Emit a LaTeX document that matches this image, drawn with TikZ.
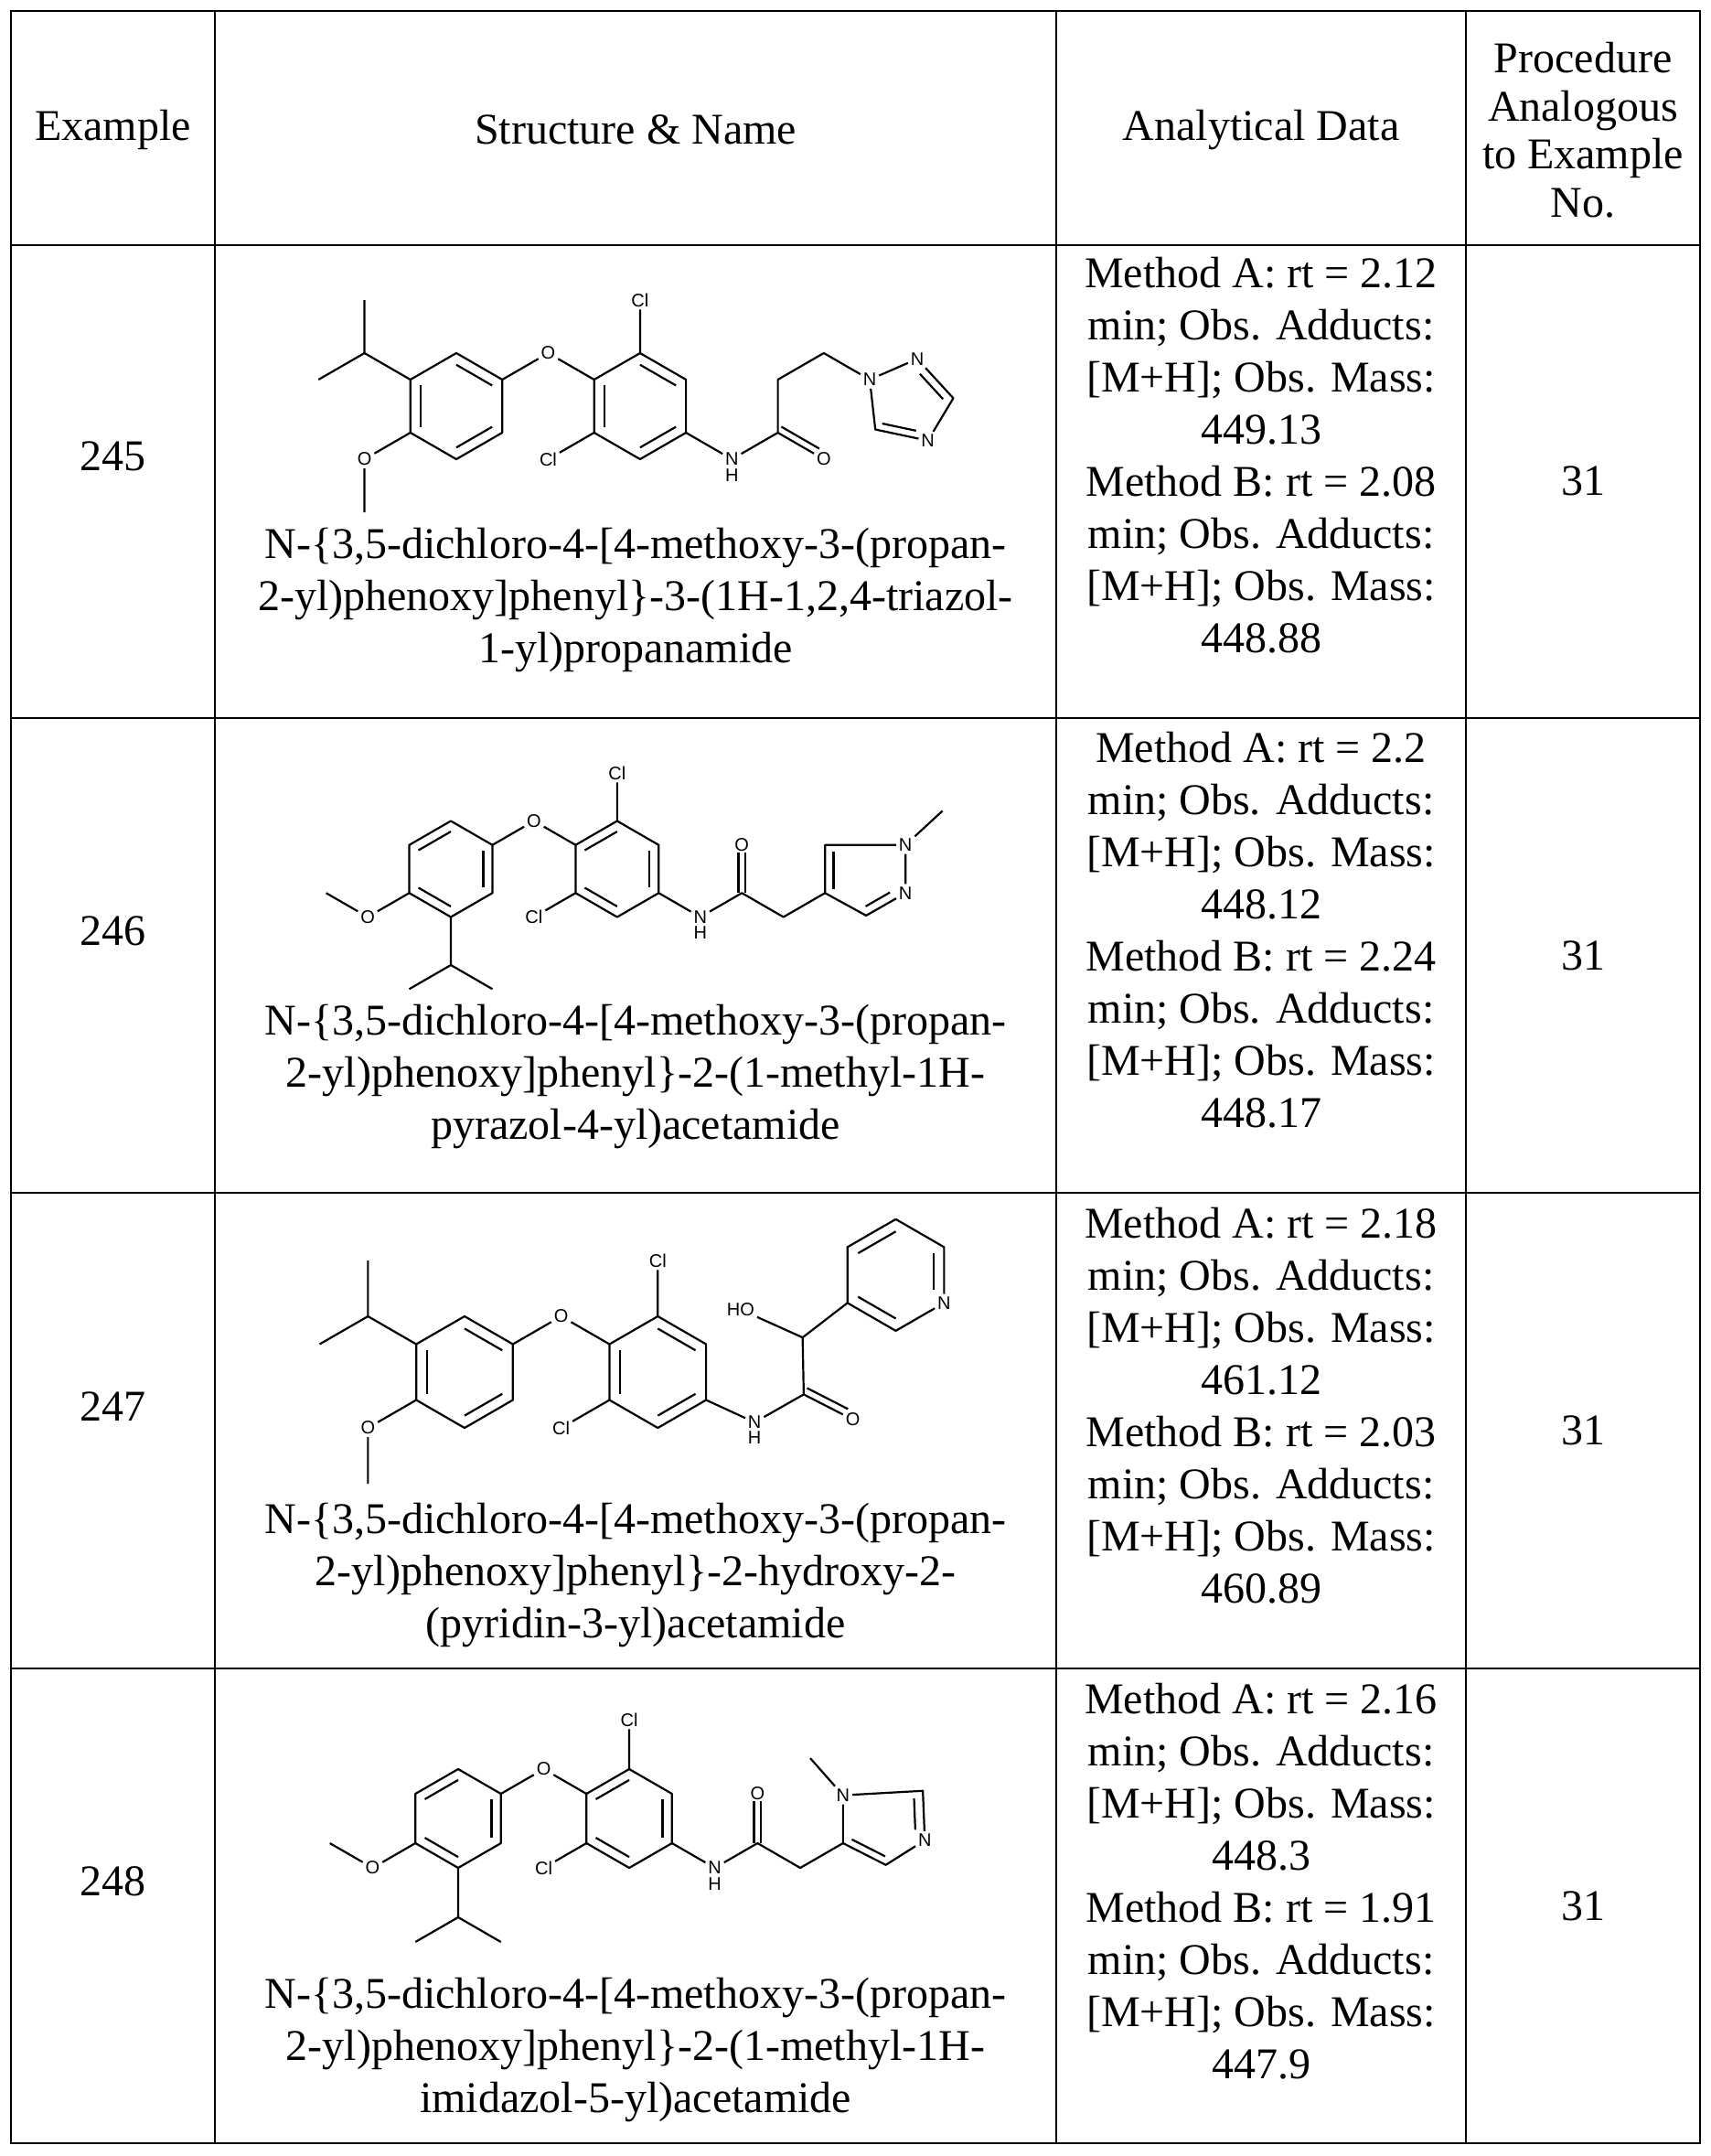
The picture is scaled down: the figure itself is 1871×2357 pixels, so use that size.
\documentclass[tikz,border=0pt]{standalone}
\usepackage{fontspec}
\setmainfont{Liberation Serif}
\newfontfamily\molfont{Liberation Sans}
\usetikzlibrary{calc}
\tikzset{
  bond/.style={line width=1.1pt, line join=round},
  tab/.style={line width=1pt},
  atom/.style={font=\molfont\fontsize{10}{10}\selectfont, inner sep=1.3pt},
  cell/.style={font=\fontsize{24}{28.5}\selectfont, align=center, inner sep=0pt},
}
\newcommand\hexring[3]{%
  \coordinate (#1) at (#2,#3);
  \foreach \i/\ang in {1/90,2/30,3/-30,4/-90,5/-150,6/150}{\coordinate (#1\i) at ($(#1)+(\ang:1)$);}%
  \draw[bond] (#11)--(#12)--(#13)--(#14)--(#15)--(#16)--cycle;}
\newcommand\dbin[4][]{\draw[bond,#1] ($(#2)!0.22!(#4)$) -- ($(#3)!0.22!(#4)$);}
\begin{document}
\begin{tikzpicture}[x=0.5pt,y=-0.5pt]
\useasboundingbox (0,0) rectangle (1871,2357);
% table
\draw[tab] (12,12) rectangle (1859,2343);
\foreach \yy in {268,785,1304,1824} \draw[tab] (12,\yy) -- (1859,\yy);
\foreach \xx in {235,1155,1603} \draw[tab] (\xx,12) -- (\xx,2343);
% header
\node[cell] (h1) at (123.5,142) {Example};
\node[cell] (h2) at (695,142) {Structure \& Name};
\node[cell] (h3) at (1379,142) {Analytical Data};
\node[cell, font=\fontsize{24}{26.3}\selectfont] (h4) at (1731,142) {Procedure\\Analogous\\to Example\\No.};
% example numbers
\node[cell] (e1) at (123.5,499) {245};
\node[cell] (e2) at (123.5,1018) {246};
\node[cell] (e3) at (123.5,1538) {247};
\node[cell] (e4) at (123.5,2057) {248};
% procedure
\node[cell] (p1) at (1731,526) {31};
\node[cell] (p2) at (1731,1045) {31};
\node[cell] (p3) at (1731,1564) {31};
\node[cell] (p4) at (1731,2084) {31};
% analytical
\node[cell] (d1) at (1379,498) {Method A: rt = 2.12\\min; Obs. Adducts:\\{}[M+H]; Obs. Mass:\\449.13\\Method B: rt = 2.08\\min; Obs. Adducts:\\{}[M+H]; Obs. Mass:\\448.88};
\node[cell] (d2) at (1379,1017) {Method A: rt = 2.2\\min; Obs. Adducts:\\{}[M+H]; Obs. Mass:\\448.12\\Method B: rt = 2.24\\min; Obs. Adducts:\\{}[M+H]; Obs. Mass:\\448.17};
\node[cell] (d3) at (1379,1537) {Method A: rt = 2.18\\min; Obs. Adducts:\\{}[M+H]; Obs. Mass:\\461.12\\Method B: rt = 2.03\\min; Obs. Adducts:\\{}[M+H]; Obs. Mass:\\460.89};
\node[cell] (d4) at (1379,2057) {Method A: rt = 2.16\\min; Obs. Adducts:\\{}[M+H]; Obs. Mass:\\448.3\\Method B: rt = 1.91\\min; Obs. Adducts:\\{}[M+H]; Obs. Mass:\\447.9};
% names
\node[cell] (n1) at (695,656) {N-\{3,5-dichloro-4-[4-methoxy-3-(propan-\\2-yl)phenoxy]phenyl\}-3-(1H-1,2,4-triazol-\\1-yl)propanamide};
\node[cell] (n2) at (695,1177) {N-\{3,5-dichloro-4-[4-methoxy-3-(propan-\\2-yl)phenoxy]phenyl\}-2-(1-methyl-1H-\\pyrazol-4-yl)acetamide};
\node[cell] (n3) at (695,1722) {N-\{3,5-dichloro-4-[4-methoxy-3-(propan-\\2-yl)phenoxy]phenyl\}-2-hydroxy-2-\\(pyridin-3-yl)acetamide};
\node[cell] (n4) at (695,2241) {N-\{3,5-dichloro-4-[4-methoxy-3-(propan-\\2-yl)phenoxy]phenyl\}-2-(1-methyl-1H-\\imidazol-5-yl)acetamide};

% ===== molecule 245 =====
\begin{scope}[shift={(499,444)},x=29pt,y=29pt]
\hexring{a}{0}{0}\hexring{b}{3.464}{0}
\dbin{a1}{a2}{a}\dbin{a5}{a6}{a}\dbin{a3}{a4}{a}
\dbin{b1}{b2}{b}\dbin{b5}{b6}{b}\dbin{b3}{b4}{b}
\node[atom] (o) at (1.732,1) {O};
\node[atom] (cla) at (3.464,2) {Cl};
\node[atom] (clb) at (1.732,-1) {Cl};
\node[atom] (nh) at (5.196,-1) {N};
\node[atom, anchor=north, inner sep=0pt] (hh) at (nh.south) {H};
\coordinate (c1) at (6.062,-0.5);
\node[atom] (ox) at (6.928,-1) {O};
\coordinate (c2) at (6.062,0.5);
\coordinate (c3) at (6.928,1);
\node[atom] (t1) at (7.794,0.5) {N};
\node[atom] (t2) at (8.69,0.89) {N};
\coordinate (t3) at (9.37,0.15);
\node[atom] (t4) at (8.89,-0.65) {N};
\coordinate (t5) at (7.9,-0.44);
\coordinate (tc) at (8.49,0.07);
\draw[bond] (a2)--(o)--(b6) (b1)--(cla) (b5)--(clb) (b3)--(nh)--(c1)--(ox) (c1)--(c2)--(c3)--(t1);
\draw[bond, shorten >=5pt] ($(c1)!0.13!90:(ox)$) -- ($(ox)!0.13!-90:(c1)$);
\draw[bond] (t1)--(t2) (t2)--(t3)--(t4) (t4)--(t5)--(t1);
\dbin[shorten <=4pt]{t2}{t3}{tc}\dbin[shorten <=4pt]{t4}{t5}{tc}
\coordinate (ip) at (-1.732,1); \coordinate (m1) at (-1.732,2); \coordinate (m2) at (-2.598,0.5);
\draw[bond] (a6)--(ip)--(m1) (ip)--(m2);
\node[atom] (om) at (-1.732,-1) {O}; \coordinate (m3) at (-1.732,-2);
\draw[bond] (a5)--(om)--(m3);
\end{scope}

% ===== molecule 246 =====
\begin{scope}[shift={(493,950)},x=26.25pt,y=26.25pt]
\hexring{a}{0}{0}\hexring{b}{3.464}{0}
\dbin{a1}{a6}{a}\dbin{a2}{a3}{a}\dbin{a4}{a5}{a}
\dbin{b1}{b6}{b}\dbin{b2}{b3}{b}\dbin{b4}{b5}{b}
\node[atom] (o) at (1.732,1) {O};
\node[atom] (cla) at (3.464,2) {Cl};
\node[atom] (clb) at (1.732,-1) {Cl};
\node[atom] (nh) at (5.196,-1) {N};
\node[atom, anchor=north, inner sep=0pt] (hh) at (nh.south) {H};
\coordinate (c1) at (6.062,-0.5);
\node[atom] (ox) at (6.062,0.5) {O};
\coordinate (c2) at (6.928,-1);
\coordinate (q4) at (7.794,-0.5);
\coordinate (q5) at (7.794,0.5);
\node[atom] (q1) at (9.47,0.5) {N};
\node[atom] (q2) at (9.47,-0.5) {N};
\coordinate (q3) at (8.65,-0.97);
\coordinate (qm) at (10.24,1.21);
\coordinate (qc) at (8.6,-0.1);
\draw[bond] (a2)--(o)--(b6) (b1)--(cla) (b5)--(clb) (b3)--(nh)--(c1)--(c2)--(q4);
\draw[bond, shorten >=4pt] ($(c1)+(-0.07,0)$) -- ($(ox.center)+(-0.07,0)$);
\draw[bond, shorten >=4pt] ($(c1)+(0.07,0)$) -- ($(ox.center)+(0.07,0)$);
\draw[bond] (q4)--(q5)--(q1)--(q2)--(q3)--(q4) (q1)--(qm);
\dbin{q4}{q5}{qc}\dbin[shorten <=4pt]{q2}{q3}{qc}
\node[atom] (om) at (-1.732,-1) {O}; \coordinate (m3) at (-2.598,-0.5);
\draw[bond] (a5)--(om)--(m3);
\coordinate (ip) at (0,-2); \coordinate (m1) at (-0.866,-2.5); \coordinate (m2) at (0.866,-2.5);
\draw[bond] (a4)--(ip)--(m1) (ip)--(m2);
\end{scope}

% ===== molecule 247 =====
\begin{scope}[shift={(508,1500)},x=30.5pt,y=30.5pt]
\hexring{a}{0}{0}\hexring{b}{3.464}{0}
\dbin{a1}{a2}{a}\dbin{a5}{a6}{a}\dbin{a3}{a4}{a}
\dbin{b1}{b2}{b}\dbin{b5}{b6}{b}\dbin{b3}{b4}{b}
\node[atom] (o) at (1.732,1) {O};
\node[atom] (cla) at (3.464,2) {Cl};
\node[atom] (clb) at (1.732,-1) {Cl};
\node[atom] (nh) at (5.2,-0.9) {N};
\node[atom, anchor=north, inner sep=0pt] (hh) at (nh.south) {H};
\coordinate (c1) at (6.08,-0.4);
\node[atom] (ox) at (6.96,-0.85) {O};
\coordinate (ca) at (6.06,0.62);
\node[atom] (ho) at (4.95,1.12) {HO};
\coordinate (r) at (7.73,1.74);
\foreach \i/\ang in {1/90,2/30,3/-30,4/-90,5/-150,6/150}{\coordinate (r\i) at ($(r)+(\ang:1)$);}
\node[atom] (rn) at (r3) {N};
\draw[bond] (a2)--(o)--(b6) (b1)--(cla) (b5)--(clb) (b3)--(nh)--(c1)--(ox) (c1)--(ca)--(ho) (ca)--(r5);
\draw[bond, shorten >=5pt] ($(c1)!0.13!90:(ox)$) -- ($(ox)!0.13!-90:(c1)$);
\draw[bond] (r1)--(r2)--(rn)--(r4)--(r5)--(r6)--(r1);
\dbin{r6}{r1}{r}\dbin[shorten >=4pt]{r2}{r3}{r}\dbin{r4}{r5}{r}
\coordinate (ip) at (-1.732,1); \coordinate (m1) at (-1.732,2); \coordinate (m2) at (-2.598,0.5);
\draw[bond] (a6)--(ip)--(m1) (ip)--(m2);
\node[atom] (om) at (-1.732,-1) {O}; \coordinate (m3) at (-1.732,-2);
\draw[bond] (a5)--(om)--(m3);
\end{scope}

% ===== molecule 248 =====
\begin{scope}[shift={(501,1988)},x=27pt,y=27pt]
\hexring{a}{0}{0}\hexring{b}{3.464}{0}
\dbin{a1}{a6}{a}\dbin{a2}{a3}{a}\dbin{a4}{a5}{a}
\dbin{b1}{b6}{b}\dbin{b2}{b3}{b}\dbin{b4}{b5}{b}
\node[atom] (o) at (1.732,1) {O};
\node[atom] (cla) at (3.464,2) {Cl};
\node[atom] (clb) at (1.732,-1) {Cl};
\node[atom] (nh) at (5.196,-1) {N};
\node[atom, anchor=north, inner sep=0pt] (hh) at (nh.south) {H};
\coordinate (c1) at (6.062,-0.5);
\node[atom] (ox) at (6.062,0.5) {O};
\coordinate (c2) at (6.928,-1);
\coordinate (i5) at (7.794,-0.5);
\node[atom] (i1) at (7.794,0.47) {N};
\coordinate (i2) at (9.41,0.56);
\node[atom] (i3) at (9.45,-0.44) {N};
\coordinate (i4) at (8.66,-0.94);
\coordinate (im) at (7.13,1.22);
\coordinate (ic) at (8.6,-0.15);
\draw[bond] (a2)--(o)--(b6) (b1)--(cla) (b5)--(clb) (b3)--(nh)--(c1)--(c2)--(i5);
\draw[bond, shorten >=4pt] ($(c1)+(-0.07,0)$) -- ($(ox.center)+(-0.07,0)$);
\draw[bond, shorten >=4pt] ($(c1)+(0.07,0)$) -- ($(ox.center)+(0.07,0)$);
\draw[bond] (i5)--(i1)--(i2)--(i3)--(i4)--(i5) (i1)--(im);
\dbin{i4}{i5}{ic}\dbin[shorten >=4pt]{i2}{i3}{ic}
\node[atom] (om) at (-1.732,-1) {O}; \coordinate (m3) at (-2.598,-0.5);
\draw[bond] (a5)--(om)--(m3);
\coordinate (ip) at (0,-2); \coordinate (m1) at (-0.866,-2.5); \coordinate (m2) at (0.866,-2.5);
\draw[bond] (a4)--(ip)--(m1) (ip)--(m2);
\end{scope}
\end{tikzpicture}
\end{document}
